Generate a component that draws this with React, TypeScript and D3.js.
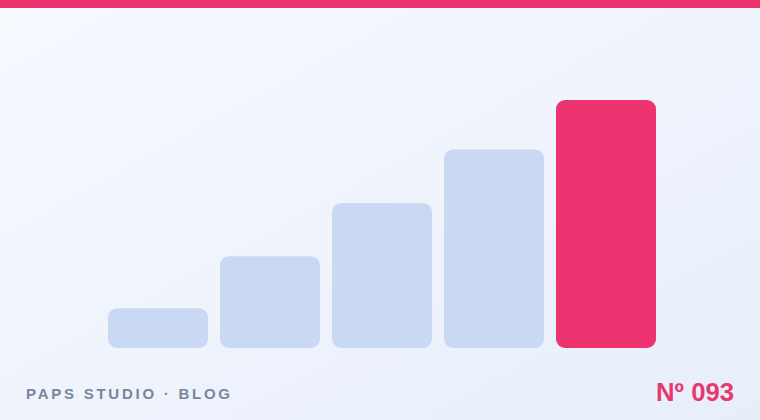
import { useEffect, useRef } from 'react';
import * as d3 from 'd3';

// bar heights, read as % of the tallest bar
const steps = ['1', '2', '3', '4', '5'];
const values = [16, 37, 58.5, 80, 100];
const highlight = '5';

const brand = 'PAPS STUDIO · BLOG';
const issue = 'Nº 093';

export default function App() {
  const svgRef = useRef<SVGSVGElement>(null);

  useEffect(() => {
    document.body.style.margin = '0';
    if (!svgRef.current) return;

    const width = 760;
    const height = 420;

    const svg = d3.select(svgRef.current);
    svg.selectAll('*').remove();

    // background gradient
    const defs = svg.append('defs');
    const grad = defs.append('linearGradient')
      .attr('id', 'bg')
      .attr('x1', '0%').attr('y1', '0%')
      .attr('x2', '100%').attr('y2', '100%');
    grad.append('stop').attr('offset', '0%').attr('stop-color', '#f7f9ff');
    grad.append('stop').attr('offset', '100%').attr('stop-color', '#e7eefa');

    svg.append('rect')
      .attr('width', width)
      .attr('height', height)
      .attr('fill', 'url(#bg)');

    // top accent strip
    svg.append('rect')
      .attr('width', width)
      .attr('height', 8)
      .attr('fill', '#ec3570');

    const x = d3.scaleBand<string>()
      .domain(steps)
      .range([108, 656])
      .paddingInner(12 / 112)
      .paddingOuter(0);

    const y = d3.scaleLinear()
      .domain([0, 100])
      .range([348, 100]);

    const data = steps.map((s, i) => ({ step: s, value: values[i] }));

    svg.selectAll('.bar')
      .data(data)
      .enter()
      .append('rect')
      .attr('class', 'bar')
      .attr('x', d => x(d.step)!)
      .attr('y', d => y(d.value))
      .attr('width', x.bandwidth())
      .attr('height', d => y(0) - y(d.value))
      .attr('rx', 9)
      .attr('ry', 9)
      .attr('fill', d => (d.step === highlight ? '#ec3570' : '#c9d9f4'));

    svg.append('text')
      .attr('x', 26)
      .attr('y', 399)
      .attr('fill', '#7a869e')
      .attr('font-family', 'Liberation Sans, Arial, sans-serif')
      .attr('font-size', 15)
      .attr('font-weight', 700)
      .attr('letter-spacing', 2.75)
      .text(brand);

    svg.append('text')
      .attr('x', 734)
      .attr('y', 400.5)
      .attr('text-anchor', 'end')
      .attr('fill', '#e8396f')
      .attr('font-family', 'Liberation Sans, Arial, sans-serif')
      .attr('font-size', 25.7)
      .attr('font-weight', 700)
      .text(issue);
  }, []);

  return <svg ref={svgRef} width={760} height={420} viewBox="0 0 760 420" style={{ display: 'block' }} />;
}
